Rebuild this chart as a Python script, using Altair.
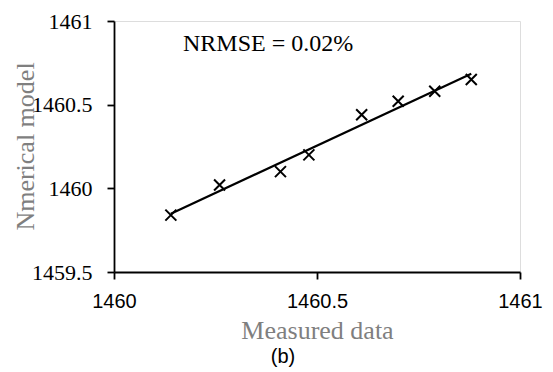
import altair as alt
import pandas as pd

measured = [1460.14, 1460.26, 1460.41, 1460.48, 1460.61, 1460.70, 1460.79, 1460.88]
model = [1459.84, 1460.02, 1460.10, 1460.20, 1460.44, 1460.52, 1460.58, 1460.65]
x_ticks = [1460, 1460.5, 1461]
y_ticks = [1459.5, 1460, 1460.5, 1461]
note_text = ["NRMSE = 0.02%"]
note_x = [1460.17]
note_y = [1460.82]
caption = ["(b)"]

SERIF = "'Liberation Serif', 'Times New Roman', 'DejaVu Serif', serif"
SANS = "'Liberation Sans', Arial, sans-serif"

df = pd.DataFrame({"measured": measured, "model": model})
note_df = pd.DataFrame({"t": note_text, "x": note_x, "y": note_y})
cap_df = pd.DataFrame({"t": caption})

xscale = alt.Scale(domain=[1460, 1461], nice=False, zero=False)
yscale = alt.Scale(domain=[1459.5, 1461], nice=False, zero=False)

xaxis = alt.Axis(
    values=x_ticks, format=".1~f", grid=False, domainColor="black", domainWidth=1.8,
    tickColor="black", tickWidth=1.8, tickSize=7, labelFlush=False,
    labelFont=SANS, labelFontSize=20, labelColor="black", labelPadding=12,
    title="Measured data", titleFont=SERIF, titleFontSize=26,
    titleFontWeight="normal", titleColor="#7f7f7f", titleX=203, titleY=66,
    titleBaseline="alphabetic", titleAlign="center",
)
yaxis = alt.Axis(
    values=y_ticks, format=".1~f", grid=False, domainColor="black", domainWidth=1.8,
    tickColor="black", tickWidth=1.8, tickSize=7, labelFlush=False,
    labelFont=SERIF, labelFontSize=22, labelColor="black", labelPadding=15,
    title="Nmerical model", titleFont=SERIF, titleFontSize=26,
    titleFontWeight="normal", titleColor="#7f7f7f", titleX=-81, titleY=125,
    titleBaseline="alphabetic", titleAlign="center", titleAngle=270,
)

cross = "M-1,-1L1,1M1,-1L-1,1"

points = alt.Chart(df).mark_point(
    shape=cross, size=121, filled=False, stroke="black", strokeWidth=2, opacity=1
).encode(
    x=alt.X("measured:Q", scale=xscale, axis=xaxis),
    y=alt.Y("model:Q", scale=yscale, axis=yaxis),
)

trend = alt.Chart(df).transform_regression("measured", "model").mark_line(
    color="black", strokeWidth=2.2
).encode(
    x=alt.X("measured:Q", scale=xscale),
    y=alt.Y("model:Q", scale=yscale),
)

note = alt.Chart(note_df).mark_text(
    font=SERIF, fontSize=24, align="left", baseline="alphabetic", color="black"
).encode(
    x=alt.X("x:Q", scale=xscale),
    y=alt.Y("y:Q", scale=yscale),
    text="t:N",
)

cap = alt.Chart(cap_df).mark_text(
    font=SANS, fontSize=20, align="center", baseline="middle", color="black"
).encode(
    x=alt.value(169),
    y=alt.value(336),
    text="t:N",
)

chart = alt.layer(trend, points, note, cap).properties(
    width=406,
    height=251,
    autosize=alt.AutoSizeParams(type="none"),
    padding={"left": 106, "top": 13, "right": 25, "bottom": 98},
).configure_view(stroke=None).configure(background="white")

chart.save("out.html", embed_options={"renderer": "svg", "actions": False})
